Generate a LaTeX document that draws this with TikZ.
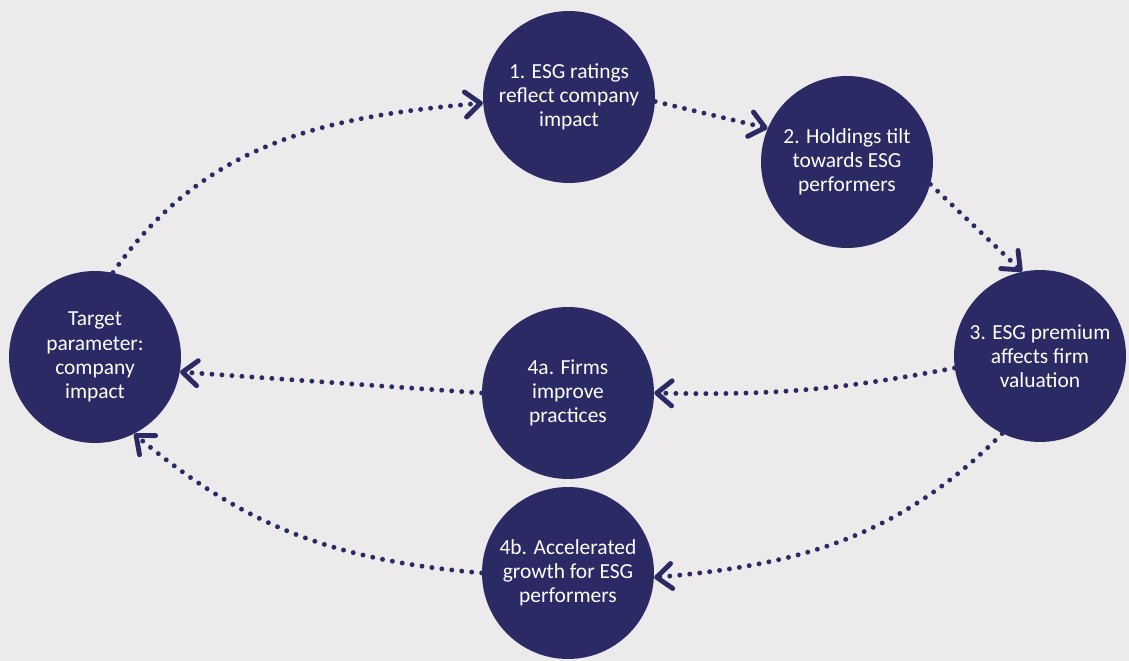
\documentclass[tikz,border=0pt]{standalone}
\usepackage{fontspec}
\setmainfont{Carlito}
\usetikzlibrary{arrows.meta}
\definecolor{esgnavy}{RGB}{43,42,101}
\definecolor{esgback}{RGB}{236,234,234}
\tikzset{
	stage/.style={circle, fill=esgnavy, text=white, minimum size=3.44cm, inner sep=0pt,
		align=center, font=\fontsize{12.2pt}{13.8pt}\selectfont},
	flow/.style={draw=esgnavy, line width=2.8pt, line cap=round, dash pattern=on 0pt off 5.7pt,
		-{Straight Barb[length=0.3cm, width=0.5cm, line width=2.8pt, round]}},
}

\begin{document}
\begin{tikzpicture}[x=0.02cm, y=0.02cm]
			%%%%% START %%%%%
			
			\fill[esgback] (0, 0) rectangle (1129, 661);
			
			\node[stage] (rate) at (569, 564) {1. ESG ratings\\reflect company\\impact};
			\node[stage] (tilt) at (847, 499) {2. Holdings tilt\\towards ESG\\performers};
			\node[stage] (prem) at (1040, 305) {3. ESG premium\\affects firm\\valuation};
			\node[stage] (impr) at (568, 268) {4a. Firms\\improve\\practices};
			\node[stage] (grow) at (568, 88) {4b. Accelerated\\growth for ESG\\performers};
			\node[stage] (targ) at (95, 304) {Target\\parameter:\\company\\impact};
			
			\draw[flow] (targ.78) to[out=55, in=185] (rate.184);
			\draw[flow] (rate.-3) -- (tilt.157);
			\draw[flow] (tilt.-15) -- (prem.102);
			\draw[flow] (prem.188) to[bend left=6] (impr.0);
			\draw[flow] (impr.180) -- (targ.-10);
			\draw[flow] (prem.244) to[out=225, in=5] (grow.-3);
			\draw[flow] (grow.180) to[out=175, in=-40] (targ.-63);
			
			%%%%% END %%%%%
\end{tikzpicture}
\end{document}
